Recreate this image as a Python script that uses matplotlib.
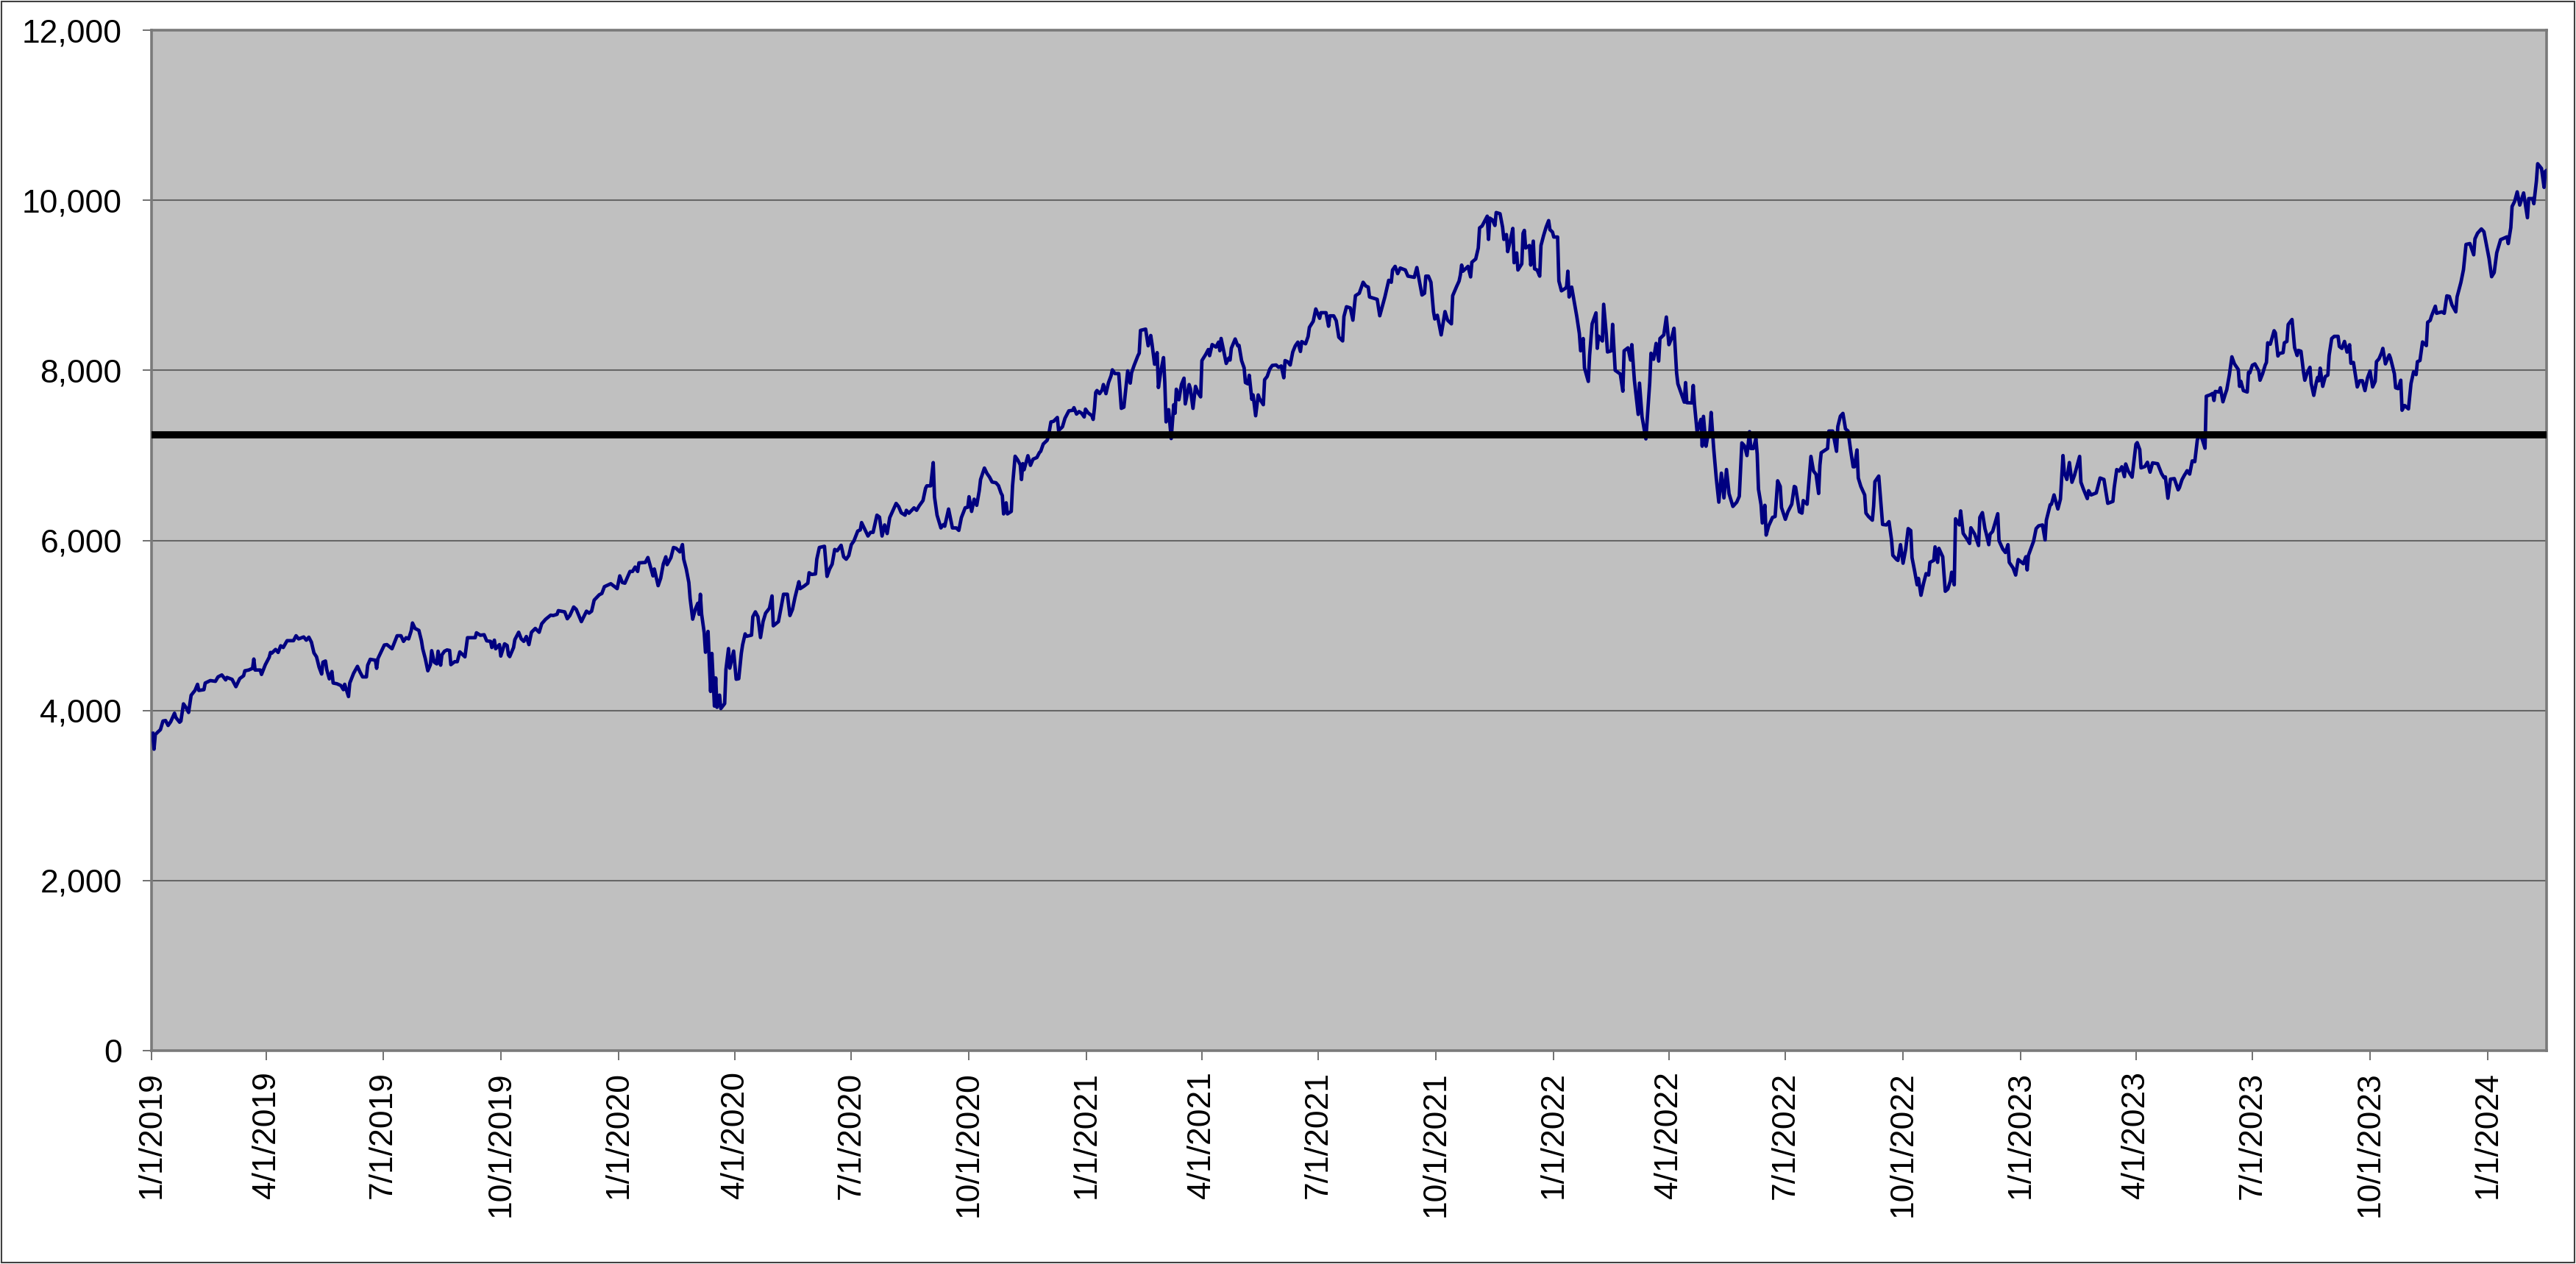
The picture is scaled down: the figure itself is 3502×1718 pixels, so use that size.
import pandas as pd
import matplotlib
matplotlib.use("Agg")
import matplotlib.pyplot as plt
from matplotlib.patches import Rectangle
from matplotlib.ticker import FuncFormatter

# series is stored as (days after 1/1/2019, value)
START = pd.Timestamp("2019-01-01")
END = pd.Timestamp("2024-02-16")

# Jan 2019 - Nov 2019
days_a = [1, 2, 3, 7, 9, 11, 13, 15, 18, 19,
          22, 23, 25, 27, 29, 31, 34, 36, 37, 41,
          42, 46, 50, 52, 55, 58, 59, 63, 66, 69,
          72, 73, 76, 79, 80, 81, 85, 86, 89, 92,
          93, 94, 97, 99, 101, 103, 106, 109, 111, 113,
          115, 119, 121, 123, 125, 127, 129, 131, 133, 134,
          136, 137, 139, 141, 142, 145, 148, 150, 151, 154,
          155, 158, 161, 163, 165, 168, 169, 171, 175, 176,
          177, 182, 184, 188, 192, 195, 197, 199, 201, 203,
          204, 206, 209, 211, 212, 214, 216, 218, 219, 221,
          223, 224, 226, 227, 229, 231, 233, 234, 237, 239,
          241, 245, 247, 253, 254, 257, 260, 262, 265, 266,
          268, 269, 272, 273, 276, 278, 279, 280, 283, 284,
          287, 289, 291, 293, 295, 297, 300, 303, 305, 308,
          312]
vals_a = [3732, 3545, 3718, 3775, 3876, 3882, 3824, 3867, 3968, 3919,
          3862, 3876, 4078, 4035, 3977, 4179, 4236, 4308, 4236, 4245,
          4323, 4352, 4343, 4395, 4418, 4360, 4389, 4366, 4280, 4375,
          4409, 4467, 4476, 4496, 4605, 4476, 4476, 4424, 4539, 4625,
          4683, 4674, 4718, 4683, 4761, 4741, 4821, 4821, 4821, 4879,
          4842, 4865, 4827, 4862, 4804, 4677, 4631, 4510, 4429, 4568,
          4582, 4481, 4372, 4458, 4323, 4314, 4294, 4245, 4308, 4164,
          4323, 4438, 4519, 4452, 4395, 4395, 4533, 4602, 4591, 4496,
          4611, 4770, 4775, 4726, 4879, 4879, 4813, 4856, 4842, 4937,
          5029, 4965, 4942, 4821, 4726, 4611, 4467, 4539, 4703, 4568,
          4548, 4697, 4533, 4654, 4697, 4712, 4706, 4539, 4574, 4574,
          4689, 4631, 4856, 4856, 4914, 4885, 4891, 4819, 4813, 4741,
          4827, 4726, 4775, 4640, 4784, 4764, 4654, 4634, 4741, 4833,
          4920, 4842, 4813, 4870, 4775, 4920, 4965, 4920, 5020, 5072,
          5121]

# Nov 2019 - Sep 2020
days_b = [314, 317, 318, 323, 325, 327, 330, 332, 334, 336,
          340, 342, 344, 346, 350, 352, 354, 359, 364, 366,
          368, 370, 374, 376, 378, 380, 381, 386, 388, 390,
          392, 393, 394, 396, 398, 400, 402, 403, 406, 408,
          410, 413, 415, 416, 418, 420, 421, 423, 425, 427,
          428, 429, 430, 432, 433, 435, 437, 438, 440, 441,
          442, 444, 445, 448, 449, 451, 452, 455, 457, 459,
          461, 462, 464, 465, 469, 470, 472, 474, 476, 478,
          480, 483, 485, 486, 490, 492, 494, 497, 499, 501,
          503, 506, 507, 510, 513, 514, 516, 519, 520, 522,
          526, 528, 530, 532, 534, 536, 539, 541, 543, 545,
          547, 549, 552, 554, 555, 560, 562, 564, 567, 569,
          571, 573, 575, 577, 582, 584, 586, 589, 590, 592,
          596, 598, 600, 603, 605, 606, 609, 611, 612, 614,
          617, 619]
vals_b = [5117, 5131, 5174, 5160, 5079, 5117, 5217, 5189, 5117, 5045,
          5168, 5145, 5168, 5298, 5361, 5376, 5456, 5491, 5433, 5583,
          5505, 5497, 5635, 5635, 5687, 5635, 5736, 5741, 5799, 5692,
          5583, 5664, 5600, 5468, 5557, 5721, 5807, 5715, 5799, 5917,
          5908, 5865, 5951, 5779, 5663, 5505, 5318, 5074, 5189, 5261,
          5131, 5367, 5131, 4915, 4685, 4930, 4224, 4671, 4052, 4383,
          4037, 4181, 4023, 4081, 4483, 4728, 4498, 4699, 4368, 4374,
          4671, 4771, 4901, 4872, 4886, 5102, 5160, 5102, 4858, 5045,
          5145, 5203, 5347, 4996, 5045, 5203, 5367, 5367, 5117, 5189,
          5333, 5514, 5433, 5462, 5497, 5620, 5600, 5606, 5779, 5917,
          5931, 5577, 5663, 5721, 5894, 5879, 5943, 5807, 5779, 5822,
          5951, 5994, 6110, 6124, 6210, 6052, 6095, 6095, 6297, 6274,
          6052, 6182, 6081, 6268, 6435, 6397, 6325, 6297, 6354, 6320,
          6383, 6354, 6406, 6469, 6613, 6642, 6642, 6915, 6512, 6297,
          6147, 6187]

# Sep 2020 - Jul 2021
days_c = [620, 623, 626, 629, 631, 633, 636, 638, 639, 641,
          643, 645, 646, 647, 648, 651, 653, 655, 657, 660,
          662, 664, 665, 666, 668, 669, 672, 673, 675, 677,
          679, 680, 681, 682, 685, 687, 689, 692, 694, 695,
          697, 700, 701, 703, 705, 708, 709, 712, 714, 717,
          720, 721, 723, 725, 727, 729, 730, 732, 735, 736,
          737, 738, 739, 741, 743, 744, 746, 748, 750, 751,
          753, 756, 758, 760, 761, 763, 765, 766, 768, 771,
          772, 773, 777, 779, 781, 782, 784, 786, 787, 789,
          791, 792, 793, 795, 797, 799, 800, 801, 803, 805,
          807, 808, 811, 812, 814, 816, 818, 820, 821, 824,
          826, 827, 829, 832, 834, 835, 836, 838, 840, 842,
          843, 844, 847, 849, 850, 852, 854, 855, 857, 858,
          860, 861, 863, 865, 866, 869, 870, 872, 874, 876,
          879, 881, 883, 885, 886, 888, 890, 892, 894, 896,
          898, 899, 902, 904, 905, 908, 910, 913, 914, 918,
          920, 921, 924, 926, 928, 931]
vals_c = [6167, 6369, 6147, 6147, 6118, 6268, 6384, 6390, 6514, 6341,
          6485, 6413, 6499, 6586, 6716, 6851, 6788, 6745, 6687, 6678,
          6644, 6557, 6528, 6312, 6442, 6312, 6341, 6644, 6990, 6947,
          6889, 6716, 6903, 6831, 6996, 6883, 6955, 6975, 7033, 7048,
          7134, 7177, 7221, 7394, 7400, 7446, 7293, 7336, 7437, 7524,
          7530, 7561, 7486, 7515, 7495, 7452, 7544, 7501, 7466, 7423,
          7553, 7740, 7763, 7726, 7769, 7833, 7726, 7856, 7937, 8006,
          7962, 7962, 7553, 7567, 7711, 7994, 7850, 7971, 8058, 8173,
          8202, 8470, 8485, 8289, 8410, 8312, 8072, 8208, 7798, 8000,
          8150, 7856, 7394, 7538, 7198, 7596, 7495, 7778, 7654, 7833,
          7908, 7605, 7833, 7784, 7553, 7812, 7734, 7688, 8115, 8188,
          8245, 8173, 8303, 8274, 8332, 8231, 8375, 8231, 8081, 8144,
          8121, 8260, 8369, 8289, 8294, 8115, 8029, 7856, 7841, 7942,
          7659, 7711, 7466, 7711, 7668, 7596, 7890, 7928, 8014, 8058,
          8063, 8035, 8052, 7913, 8115, 8101, 8063, 8216, 8289, 8332,
          8222, 8338, 8312, 8398, 8505, 8577, 8722, 8612, 8678, 8678,
          8519, 8641, 8641, 8583, 8390, 8346]

# Jul 2021 - May 2022
days_d = [932, 934, 937, 939, 941, 944, 947, 949, 951, 952,
          955, 958, 960, 964, 967, 969, 970, 972, 974, 976,
          980, 982, 987, 989, 993, 995, 996, 998, 1000, 1002,
          1003, 1005, 1008, 1011, 1013, 1016, 1017, 1020, 1022, 1023,
          1024, 1025, 1027, 1029, 1031, 1032, 1035, 1037, 1038, 1040,
          1042, 1044, 1045, 1046, 1048, 1050, 1051, 1054, 1056, 1057,
          1059, 1060, 1062, 1064, 1065, 1067, 1068, 1071, 1072, 1073,
          1074, 1077, 1078, 1080, 1081, 1083, 1085, 1086, 1088, 1090,
          1092, 1093, 1095, 1096, 1099, 1100, 1102, 1105, 1106, 1107,
          1108, 1110, 1112, 1114, 1116, 1117, 1119, 1120, 1123, 1124,
          1126, 1129, 1130, 1131, 1134, 1135, 1137, 1138, 1141, 1142,
          1144, 1148, 1150, 1151, 1154, 1156, 1157, 1159, 1162, 1163,
          1165, 1168, 1171, 1172, 1174, 1176, 1178, 1179, 1182, 1184,
          1186, 1188, 1190, 1192, 1193, 1196, 1198, 1199, 1200, 1204,
          1205, 1206, 1208, 1211, 1212, 1213, 1215, 1216, 1218, 1219,
          1221, 1223, 1225, 1227, 1229, 1231, 1233, 1236, 1239]
vals_d = [8633, 8748, 8734, 8590, 8878, 8907, 9036, 8993, 8979, 8863,
          8849, 8835, 8642, 8863, 9059, 9036, 9180, 9223, 9137, 9203,
          9180, 9108, 9094, 9209, 8886, 8907, 9108, 9108, 9036, 8691,
          8604, 8648, 8417, 8691, 8590, 8547, 8878, 8984, 9050, 9122,
          9238, 9166, 9194, 9223, 9099, 9272, 9310, 9439, 9675, 9698,
          9756, 9813, 9540, 9790, 9770, 9704, 9856, 9842, 9684, 9540,
          9597, 9396, 9525, 9669, 9266, 9381, 9180, 9252, 9612, 9646,
          9439, 9468, 9238, 9520, 9194, 9180, 9108, 9468, 9583, 9684,
          9761, 9655, 9626, 9568, 9568, 9050, 8935, 8964, 8979, 9166,
          8863, 8979, 8806, 8633, 8432, 8230, 8374, 8029, 7870, 8173,
          8547, 8676, 8259, 8403, 8345, 8777, 8432, 8216, 8230, 8541,
          8000, 7957, 7755, 8230, 8265, 8121, 8302, 7885, 7482, 7850,
          7453, 7194, 7856, 8201, 8130, 8317, 8109, 8374, 8417, 8627,
          8302, 8374, 8495, 7971, 7842, 7712, 7626, 7856, 7620, 7617,
          7822, 7597, 7281, 7424, 7108, 7459, 7108, 7194, 7281, 7505,
          7079, 6734, 6450, 6791, 6500, 6834, 6550, 6400, 6450]

# May 2022 - Apr 2023
days_e = [1241, 1243, 1245, 1247, 1249, 1250, 1252, 1254, 1255, 1256,
          1258, 1259, 1261, 1262, 1264, 1267, 1269, 1271, 1273, 1274,
          1277, 1279, 1282, 1284, 1285, 1288, 1290, 1291, 1294, 1297,
          1299, 1301, 1303, 1304, 1305, 1310, 1311, 1314, 1317, 1318,
          1320, 1322, 1324, 1326, 1328, 1330, 1331, 1333, 1334, 1336,
          1339, 1340, 1342, 1345, 1346, 1347, 1350, 1352, 1353, 1356,
          1358, 1360, 1361, 1364, 1365, 1367, 1369, 1371, 1373, 1375,
          1376, 1378, 1380, 1381, 1383, 1385, 1387, 1389, 1390, 1393,
          1394, 1396, 1397, 1400, 1402, 1404, 1406, 1407, 1409, 1410,
          1413, 1414, 1416, 1419, 1421, 1422, 1425, 1428, 1429, 1431,
          1433, 1434, 1436, 1437, 1439, 1443, 1444, 1447, 1449, 1451,
          1452, 1455, 1457, 1459, 1463, 1465, 1466, 1467, 1469, 1471,
          1473, 1475, 1478, 1480, 1481, 1484, 1485, 1487, 1490, 1492,
          1494, 1495, 1497, 1499, 1501, 1503, 1505, 1507, 1508, 1510,
          1513, 1514, 1516, 1520, 1523, 1526, 1529, 1533, 1534, 1536,
          1538, 1540, 1542, 1543, 1545, 1548, 1551]
vals_e = [6519, 7147, 7114, 6998, 7279, 7081, 7081, 7197, 7015, 6602,
          6420, 6205, 6413, 6063, 6172, 6271, 6281, 6701, 6635, 6387,
          6248, 6337, 6426, 6635, 6625, 6337, 6321, 6469, 6426, 6988,
          6816, 6777, 6552, 6883, 7031, 7081, 7286, 7286, 7048, 7339,
          7461, 7494, 7312, 7286, 7064, 6866, 6866, 7064, 6734, 6635,
          6535, 6321, 6281, 6238, 6403, 6691, 6757, 6370, 6188, 6182,
          6221, 6006, 5825, 5775, 5765, 5950, 5732, 5891, 6139, 6116,
          5798, 5643, 5478, 5554, 5355, 5494, 5610, 5593, 5742, 5765,
          5924, 5742, 5907, 5808, 5402, 5428, 5527, 5626, 5478, 6254,
          6182, 6347, 6083, 6016, 5964, 6149, 6073, 5940, 6271, 6327,
          6139, 6083, 5950, 6073, 6106, 6314, 5997, 5897, 5858, 5950,
          5742, 5676, 5593, 5775, 5726, 5808, 5653, 5825, 5907, 5990,
          6139, 6172, 6182, 6006, 6238, 6420, 6426, 6535, 6370, 6486,
          6998, 6800, 6717, 6916, 6684, 6767, 6876, 6988, 6684, 6602,
          6492, 6585, 6535, 6559, 6734, 6717, 6436, 6459, 6618, 6833,
          6816, 6866, 6750, 6899, 6816, 6744, 7131]

# Apr 2023 - Feb 2024
days_f = [1552, 1554, 1555, 1558, 1560, 1562, 1564, 1568, 1571, 1573,
          1574, 1576, 1578, 1581, 1584, 1585, 1587, 1589, 1590, 1591,
          1593, 1595, 1597, 1599, 1601, 1603, 1605, 1606, 1609, 1611,
          1612, 1613, 1616, 1617, 1619, 1621, 1622, 1624, 1626, 1628,
          1631, 1632, 1633, 1635, 1638, 1639, 1640, 1642, 1644, 1647,
          1648, 1650, 1652, 1653, 1654, 1656, 1659, 1660, 1662, 1663,
          1666, 1667, 1669, 1670, 1673, 1675, 1677, 1678, 1680, 1682,
          1683, 1685, 1687, 1688, 1690, 1692, 1693, 1694, 1695, 1697,
          1699, 1701, 1702, 1704, 1706, 1709, 1710, 1712, 1714, 1716,
          1718, 1719, 1721, 1724, 1726, 1728, 1730, 1732, 1734, 1736,
          1738, 1739, 1741, 1743, 1744, 1746, 1749, 1750, 1753, 1754,
          1756, 1758, 1759, 1761, 1764, 1766, 1768, 1770, 1771, 1773,
          1775, 1778, 1779, 1781, 1782, 1785, 1786, 1790, 1792, 1794,
          1796, 1798, 1801, 1802, 1805, 1807, 1809, 1812, 1815, 1816,
          1818, 1821, 1823, 1827, 1829, 1831, 1833, 1836, 1839, 1841,
          1842, 1844, 1845, 1847, 1849, 1851, 1854, 1857, 1858, 1861,
          1862, 1864, 1865, 1868, 1870, 1871, 1872]
vals_f = [7150, 7068, 6853, 6869, 6919, 6803, 6912, 6902, 6787, 6737,
          6747, 6496, 6721, 6727, 6595, 6621, 6714, 6770, 6793, 6820,
          6780, 6935, 6926, 7183, 7250, 7183, 7084, 7696, 7712, 7729,
          7646, 7752, 7745, 7795, 7630, 7729, 7772, 7944, 8159, 8076,
          8010, 7812, 7871, 7762, 7745, 7977, 7970, 8060, 8076, 7993,
          7884, 7960, 8060, 8093, 8324, 8307, 8466, 8440, 8169, 8198,
          8208, 8324, 8340, 8539, 8598, 8268, 8175, 8235, 8225, 7977,
          7884, 7977, 8036, 7845, 7706, 7861, 7917, 7878, 8026, 7812,
          7927, 7944, 8175, 8374, 8400, 8400, 8281, 8258, 8340, 8215,
          8301, 8083, 8093, 7805, 7878, 7878, 7762, 7911, 7993, 7805,
          7871, 8102, 8136, 8208, 8258, 8076, 8182, 8142, 7960, 7795,
          7785, 7884, 7531, 7587, 7547, 7845, 7983, 7950, 8102, 8116,
          8334, 8291, 8565, 8588, 8638, 8754, 8671, 8688, 8671, 8876,
          8869, 8770, 8688, 8863, 9035, 9184, 9481, 9491, 9359, 9547,
          9613, 9663, 9630, 9316, 9101, 9150, 9382, 9537, 9557, 9570,
          9491, 9679, 9927, 9987, 10099, 9944, 10086, 9795, 10020, 10020,
          9960, 10225, 10430, 10374, 10152, 10341, 10351]

ref_level = 7245

tick_labels = ["1/1/2019", "4/1/2019", "7/1/2019", "10/1/2019",
               "1/1/2020", "4/1/2020", "7/1/2020", "10/1/2020",
               "1/1/2021", "4/1/2021", "7/1/2021", "10/1/2021",
               "1/1/2022", "4/1/2022", "7/1/2022", "10/1/2022",
               "1/1/2023", "4/1/2023", "7/1/2023", "10/1/2023",
               "1/1/2024"]

days = days_a + days_b + days_c + days_d + days_e + days_f
vals = vals_a + vals_b + vals_c + vals_d + vals_e + vals_f
dates = START + pd.to_timedelta(days, unit="D")
tick_dates = pd.to_datetime(tick_labels, format="%m/%d/%Y")

plt.rcParams["font.family"] = ["Liberation Sans", "DejaVu Sans"]

fig = plt.figure(figsize=(35.02, 17.18), dpi=100)
ax = fig.add_axes([0.0588, 0.1688, 0.9298, 0.8073])
ax.set_facecolor("#c0c0c0")

ax.plot(dates, vals, color="#000080", lw=3.4, solid_joinstyle="round", zorder=3)
ax.axhline(ref_level, color="black", lw=7, zorder=4)

ax.set_xlim(START, END)
ax.set_ylim(0, 12000)
ax.set_yticks(range(0, 12001, 2000))
ax.yaxis.set_major_formatter(FuncFormatter(lambda v, p: f"{int(v):,}"))
ax.set_xticks(tick_dates)
ax.set_xticklabels(tick_labels, rotation=90, ha="center", va="top")

ax.yaxis.grid(True, color="#666666", lw=1.5)
ax.set_axisbelow(True)

ax.tick_params(axis="y", length=9, width=1.4, color="#707070", pad=20, labelsize=32)
ax.tick_params(axis="x", length=9.5, width=1.4, color="#707070", pad=11, labelsize=32)
for s in ax.spines.values():
    s.set_color("#7a7a7a")
    s.set_linewidth(2.6)

# thin frame round the whole chart
fig.add_artist(Rectangle((0.0006, 0.0012), 0.9988, 0.9976, transform=fig.transFigure,
                         fill=False, edgecolor="#404040", lw=1.5))

fig.savefig("out.png", dpi=100)
